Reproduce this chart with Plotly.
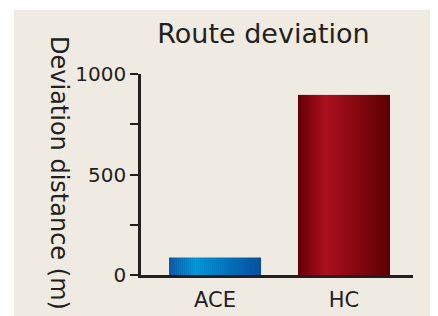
import plotly.graph_objects as go

# ---- data ----
categories = ["ACE", "HC"]
values = [87, 896]
y_tickvals = [0, 500, 1000]
y_ticktext = ["0", "500", "1000"]
title_text = "Route deviation"
y_title = "Deviation distance (m)"

# ---- style ----
FONT = "DejaVu Sans"
TXT = "#231f20"
BG = "#efebe2"
N = 46
BAR_W = 0.713
OFF = 8  # page body margin offset

L, R, T, B = 141 - OFF, 413 - OFF, 74 - OFF, 277 - OFF
PW, PH = R - L, B - T

blue_stops = [(0.0, (10, 84, 160)), (0.28, (0, 146, 214)), (1.0, (8, 78, 158))]
red_stops = [(0.0, (100, 0, 6)), (0.3, (172, 16, 30)), (1.0, (92, 0, 0))]


def interp(stops, t):
    for (t0, c0), (t1, c1) in zip(stops[:-1], stops[1:]):
        if t0 <= t <= t1:
            f = (t - t0) / (t1 - t0)
            c = [round(a + (b - a) * f) for a, b in zip(c0, c1)]
            return "rgb(%d,%d,%d)" % tuple(c)
    c = stops[-1][1]
    return "rgb(%d,%d,%d)" % c


def px(x):
    return (x - OFF - L) / PW


def py(y):
    return (B - (y - OFF)) / PH


fig = go.Figure()
for i in range(N):
    t = (i + 0.5) / N
    cols = [interp(blue_stops, t), interp(red_stops, t)]
    fig.add_trace(go.Bar(
        x=categories, y=values,
        width=BAR_W / N * 1.02,
        offset=-BAR_W / 2 + i * BAR_W / N,
        marker=dict(color=cols, line=dict(width=0)),
        showlegend=False, hoverinfo="skip",
    ))

fig.update_layout(
    width=438, height=316,
    margin=dict(l=L, r=438 - R, t=T, b=316 - B),
    paper_bgcolor="white",
    plot_bgcolor="rgba(0,0,0,0)",
    barmode="overlay",
    font=dict(family=FONT, color=TXT),
    showlegend=False,
    title=dict(text=title_text, x=(263.5 - OFF) / 438, xanchor="center",
               y=(316 - (34 - OFF)) / 316, yanchor="middle",
               font=dict(size=27, color=TXT, family=FONT)),
    shapes=[dict(type="rect", xref="paper", yref="paper",
                 x0=px(14), x1=px(460), y0=py(340), y1=py(9),
                 fillcolor=BG, line=dict(width=0), layer="below")],
    annotations=[dict(text=y_title, textangle=90, xref="paper", yref="paper",
                      x=px(59), y=py(174),
                      xanchor="center", yanchor="middle", showarrow=False,
                      font=dict(size=24, color=TXT, family=FONT))],
)
fig.update_xaxes(
    type="category", range=[-0.574, 1.535],
    showline=True, linecolor=TXT, linewidth=2.5,
    ticks="", showgrid=False, zeroline=False,
    ticklabelstandoff=4,
    tickfont=dict(size=21, color=TXT, family=FONT),
)
fig.update_yaxes(
    range=[0, 1000], tickvals=y_tickvals, ticktext=y_ticktext,
    showline=True, linecolor=TXT, linewidth=2.5,
    ticks="outside", ticklen=8, tickwidth=2, tickcolor=TXT,
    minor=dict(tickvals=[250, 750], ticks="outside", ticklen=8, tickwidth=2, tickcolor=TXT),
    showgrid=False, zeroline=False,
    tickfont=dict(size=20, color=TXT, family=FONT),
)
fig.write_html("out.html")
